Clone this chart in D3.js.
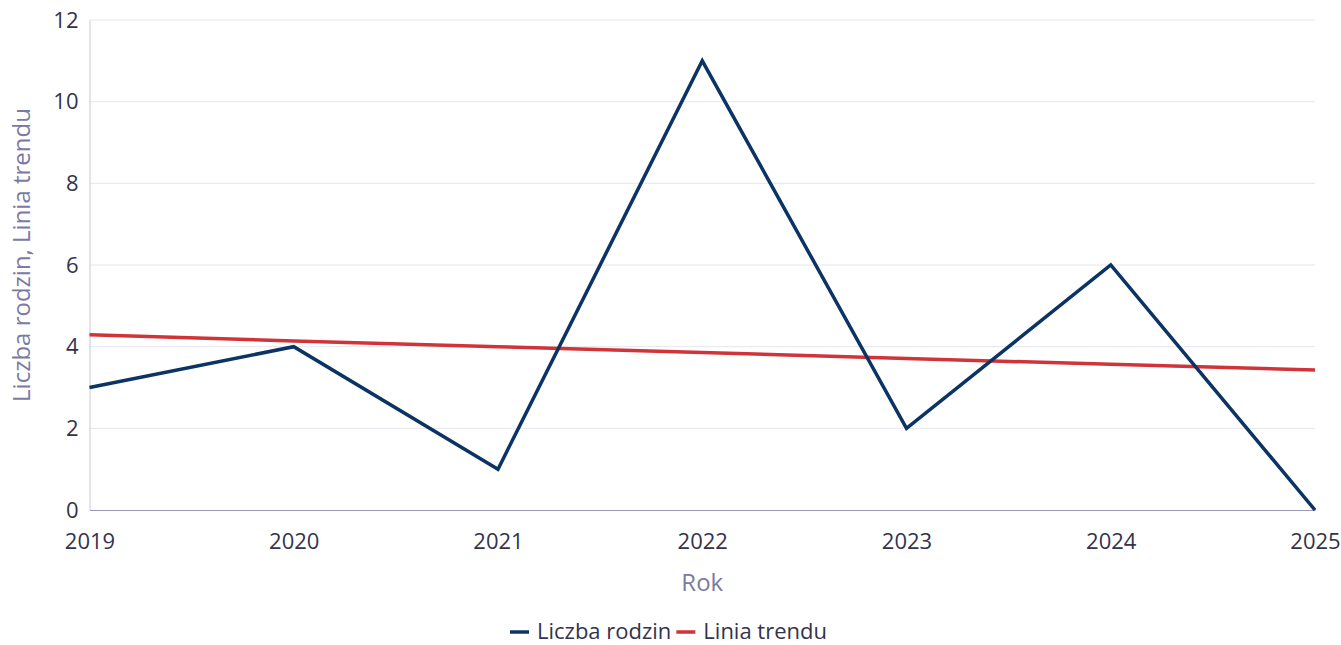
<!DOCTYPE html>
<html>
<head>
<meta charset="utf-8">
<script src="https://cdn.jsdelivr.net/npm/d3@7"></script>
<style>
  body { margin: 0; background: #fff; }
  text { font-family: "Open Sans", "Noto Sans", sans-serif; }
</style>
</head>
<body>
<div id="chart"></div>
<script>
// data
const years = [2019, 2020, 2021, 2022, 2023, 2024, 2025]
const liczbaRodzin = [3, 4, 1, 11, 2, 6, 0]
const liniaTrendu = [4.29, 4.14, 4.0, 3.86, 3.71, 3.57, 3.43]
const yTicks = [0, 2, 4, 6, 8, 10, 12]

const W = 1341, H = 645
const margin = { top: 20, right: 26, bottom: 135, left: 89.5 }
const width = W - margin.left - margin.right
const height = H - margin.top - margin.bottom

const svg = d3.select('#chart').append('svg')
  .attr('width', W).attr('height', H)
const g = svg.append('g')
  .attr('transform', `translate(${margin.left}, ${margin.top})`)

const x = d3.scaleLinear().domain([2019, 2025]).range([0, width])
const y = d3.scaleLinear().domain([0, 12]).range([height, 0])

// grid
g.selectAll('line.grid')
  .data(yTicks.filter(d => d > 0))
  .join('line')
  .attr('class', 'grid')
  .attr('x1', 0).attr('x2', width)
  .attr('y1', d => y(d)).attr('y2', d => y(d))
  .attr('stroke', '#e6e6ee').attr('stroke-width', 1)

// y axis
const yAxis = g.append('g')
  .call(d3.axisLeft(y).tickValues(yTicks).tickSize(0).tickPadding(11))
yAxis.select('.domain').attr('stroke', '#c8c8da')
yAxis.selectAll('text').attr('font-size', 22).attr('fill', '#33334d')

// x axis
const xAxis = g.append('g')
  .attr('transform', `translate(0, ${height})`)
  .call(d3.axisBottom(x).tickValues(years).tickFormat(d3.format('d')).tickSize(0).tickPadding(23))
xAxis.select('.domain').attr('stroke', '#9a9ab8')
xAxis.selectAll('text').attr('font-size', 22).attr('fill', '#33334d')

// axis titles
svg.append('text')
  .attr('x', margin.left + width / 2).attr('y', 591)
  .attr('text-anchor', 'middle')
  .attr('font-size', 24).attr('fill', '#7a7aa3')
  .text('Rok')
svg.append('text')
  .attr('transform', `translate(30, ${margin.top + height / 2 - 10}) rotate(-90)`)
  .attr('text-anchor', 'middle')
  .attr('font-size', 24).attr('fill', '#7a7aa3')
  .text('Liczba rodzin, Linia trendu')

// lines
const line = d3.line().x((d, i) => x(years[i])).y(d => y(d))
g.append('path').datum(liniaTrendu)
  .attr('d', line).attr('fill', 'none')
  .attr('stroke', '#d13438').attr('stroke-width', 3.5)
g.append('path').datum(liczbaRodzin)
  .attr('d', line).attr('fill', 'none')
  .attr('stroke', '#0b3363').attr('stroke-width', 3.5)
  .attr('stroke-linejoin', 'miter')

// legend
const legend = [
  { name: 'Liczba rodzin', color: '#0b3363' },
  { name: 'Linia trendu', color: '#d13438' }
]
const lg = svg.append('g').attr('transform', 'translate(510, 632)')
let lx = 0
legend.forEach(item => {
  lg.append('line')
    .attr('x1', lx).attr('x2', lx + 19).attr('y1', 0).attr('y2', 0)
    .attr('stroke', item.color).attr('stroke-width', 3.5)
  const t = lg.append('text')
    .attr('x', lx + 27).attr('y', 7)
    .attr('font-size', 22).attr('fill', '#33334d')
    .text(item.name)
  lx += 27 + t.node().getComputedTextLength() + 5
})
</script>
</body>
</html>
